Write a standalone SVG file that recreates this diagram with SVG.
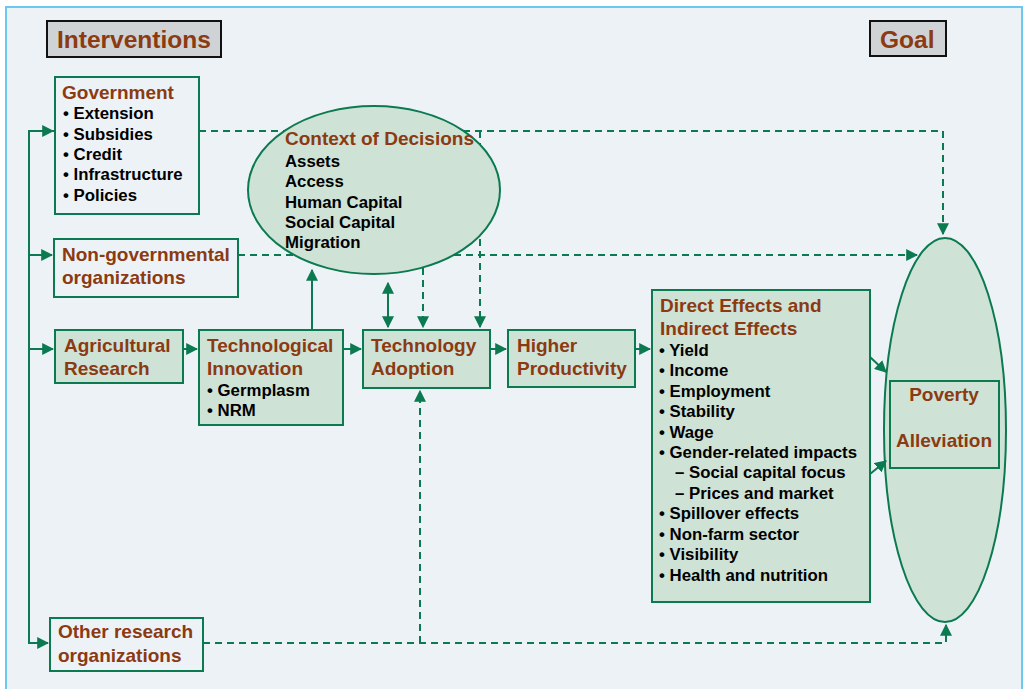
<svg xmlns="http://www.w3.org/2000/svg" width="1023" height="689" viewBox="0 0 1023 689">
<defs>
<style>
.frame{fill:#EDF2F6;stroke:#6CC8EE;stroke-width:2}
.hdr{fill:#D0D3D6;stroke:#111;stroke-width:2}
.box{fill:#EDF2F6;stroke:#0B7A50;stroke-width:2}
.gbox{fill:#CFE2D6;stroke:#0B7A50;stroke-width:2}
.ell{fill:#CFE2D6;stroke:#0B7A50;stroke-width:2}
.t{font-family:"Liberation Sans",Arial,sans-serif;font-weight:bold;fill:#8B3A12;font-size:19px}
.h{font-family:"Liberation Sans",Arial,sans-serif;font-weight:bold;fill:#8B3A12;font-size:24.5px}
.b{font-family:"Liberation Sans",Arial,sans-serif;font-weight:bold;fill:#000;font-size:16.8px}
.s{fill:none;stroke:#0B7A50;stroke-width:2}
.d{fill:none;stroke:#0B7A50;stroke-width:2;stroke-dasharray:7,5}
</style>
<marker id="ah" viewBox="0 0 10 10" refX="9" refY="5" markerWidth="6" markerHeight="6" orient="auto-start-reverse" markerUnits="strokeWidth">
<path d="M0,0 L10,5 L0,10 z" fill="#0B7A50"/>
</marker>
</defs>
<rect class="frame" x="6" y="7" width="1016" height="690"/>

<g id="connectors-back">
<path class="d" d="M199,131 H943 V234" marker-end="url(#ah)"/>
<path class="d" d="M238,255 H917" marker-end="url(#ah)"/>
<path class="d" d="M480,131 V327" marker-end="url(#ah)"/>
</g>

<g id="interventions"><rect class="hdr" x="47" y="21" width="174" height="36"/><text class="h" x="57" y="48">Interventions</text></g>
<g id="goal"><rect class="hdr" x="870" y="21" width="76" height="35"/><text class="h" x="880" y="48">Goal</text></g>

<g id="government"><rect class="box" x="55" y="77" width="144" height="137"/>
<text class="t" x="62" y="99">Government</text>
<text class="b" x="63" y="119">• Extension</text>
<text class="b" x="63" y="140">• Subsidies</text>
<text class="b" x="63" y="160">• Credit</text>
<text class="b" x="63" y="180">• Infrastructure</text>
<text class="b" x="63" y="201">• Policies</text></g>

<g id="ngo"><rect class="box" x="54" y="239" width="184" height="58"/>
<text class="t" x="62" y="261">Non-governmental</text>
<text class="t" x="62" y="284">organizations</text></g>

<g id="context"><ellipse class="ell" cx="374" cy="190" rx="126" ry="84"/>
<text class="t" x="285" y="145">Context of Decisions</text>
<text class="b" x="285" y="167">Assets</text>
<text class="b" x="285" y="187">Access</text>
<text class="b" x="285" y="208">Human Capital</text>
<text class="b" x="285" y="228">Social Capital</text>
<text class="b" x="285" y="248">Migration</text></g>

<g id="agres"><rect class="gbox" x="55" y="330" width="128" height="53"/>
<text class="t" x="64" y="352">Agricultural</text>
<text class="t" x="64" y="375">Research</text></g>

<g id="techinnov"><rect class="gbox" x="199" y="330" width="144" height="95"/>
<text class="t" x="207" y="352">Technological</text>
<text class="t" x="207" y="375">Innovation</text>
<text class="b" x="207" y="396">• Germplasm</text>
<text class="b" x="207" y="416">• NRM</text></g>

<g id="techadopt"><rect class="gbox" x="363" y="330" width="127" height="58"/>
<text class="t" x="371" y="352">Technology</text>
<text class="t" x="371" y="375">Adoption</text></g>

<g id="higherprod"><rect class="gbox" x="508" y="330" width="127" height="57"/>
<text class="t" x="517" y="352">Higher</text>
<text class="t" x="517" y="375">Productivity</text></g>

<g id="effects"><rect class="gbox" x="652" y="290" width="218" height="312"/>
<text class="t" x="660" y="312">Direct Effects and</text>
<text class="t" x="660" y="335">Indirect Effects</text>
<text class="b" x="659" y="356">• Yield</text>
<text class="b" x="659" y="376">• Income</text>
<text class="b" x="659" y="397">• Employment</text>
<text class="b" x="659" y="417">• Stability</text>
<text class="b" x="659" y="438">• Wage</text>
<text class="b" x="659" y="458">• Gender-related impacts</text>
<text class="b" x="675" y="478">– Social capital focus</text>
<text class="b" x="675" y="499">– Prices and market</text>
<text class="b" x="659" y="519">• Spillover effects</text>
<text class="b" x="659" y="540">• Non-farm sector</text>
<text class="b" x="659" y="560">• Visibility</text>
<text class="b" x="659" y="581">• Health and nutrition</text></g>

<g id="poverty"><ellipse class="ell" cx="945" cy="430" rx="61" ry="192"/>
<rect class="gbox" x="890" y="381" width="109" height="87"/>
<text class="t" x="944" y="401" text-anchor="middle">Poverty</text>
<text class="t" x="944" y="447" text-anchor="middle">Alleviation</text></g>

<g id="other"><rect class="box" x="50" y="618" width="153" height="53"/>
<text class="t" x="58" y="638">Other research</text>
<text class="t" x="58" y="662">organizations</text></g>

<g id="connectors">
<path class="s" d="M54,131 H29 V643 H48" marker-end="url(#ah)"/>
<path class="s" d="M29,131 H53" marker-end="url(#ah)"/>
<path class="s" d="M29,255 H52" marker-end="url(#ah)"/>
<path class="s" d="M29,349 H53" marker-end="url(#ah)"/>
<path class="s" d="M183,349 H197" marker-end="url(#ah)"/>
<path class="s" d="M343,349 H361" marker-end="url(#ah)"/>
<path class="s" d="M490,349 H506" marker-end="url(#ah)"/>
<path class="s" d="M635,349 H650" marker-end="url(#ah)"/>
<path class="s" d="M312,330 V270" marker-end="url(#ah)"/>
<path class="s" d="M388,283 V327" marker-start="url(#ah)" marker-end="url(#ah)"/>
<path class="d" d="M423,268 V327" marker-end="url(#ah)"/>
<path class="d" d="M203,643 H946 V625" marker-end="url(#ah)"/>
<path class="d" d="M420,643 V391" marker-end="url(#ah)"/>
<path class="s" d="M870,357 L886,372" marker-end="url(#ah)"/>
<path class="s" d="M870,474 L886,461" marker-end="url(#ah)"/>
</g>
</svg>
